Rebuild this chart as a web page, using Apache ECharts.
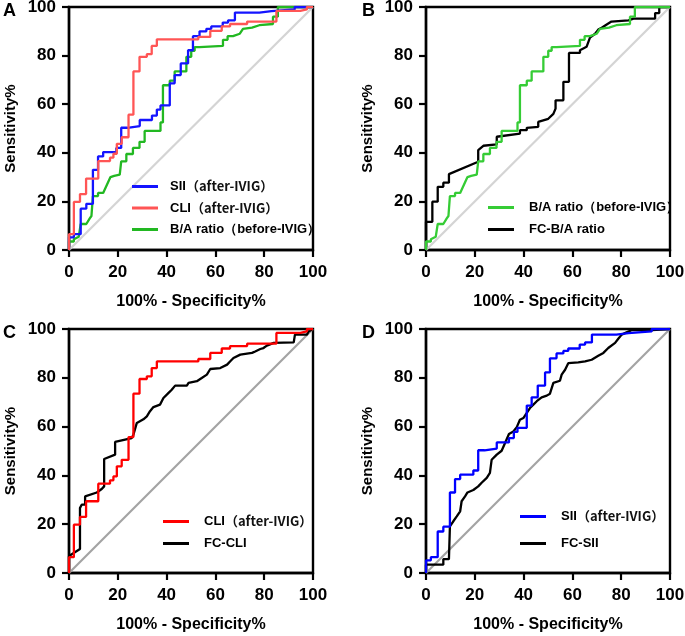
<!DOCTYPE html>
<html><head><meta charset="utf-8">
<script src="https://cdn.jsdelivr.net/npm/echarts/dist/echarts.min.js"></script>
<style>html,body{margin:0;padding:0;background:#fff}#c{width:685px;height:636px}</style>
</head><body><div id="c"></div>
<script>
// tick labels for both axes
const ticks = [0, 20, 40, 60, 80, 100];
const xTitle = '100% - Specificity%';
const yTitle = 'Sensitivity%';
const panelLetters = ['A', 'B', 'C', 'D'];

// ROC curves: [100% - Specificity%, Sensitivity%] vertices
const sii = [[0,0],[0,5.2],[2,5.2],[2,6.5],[4.8,6.5],[4.8,17],[7.1,17],[7.1,19],[9.8,19],[9.8,33],[11.9,33],[11.9,38.5],[14,38.5],[14,40.3],[19.4,40.3],[19.4,42],[21.4,42],[21.4,50.3],[24,50.3],[24,51],[29,51],[29,53.5],[34,53.5],[34,55.3],[36,55.3],[36,57.8],[37.5,57.8],[37.5,59.5],[41.3,59.5],[41.3,68.6],[43.3,68.6],[43.3,72],[45.8,72],[45.8,76.8],[48.8,76.8],[48.8,82.2],[50.8,82.2],[50.8,88],[53.5,88],[53.5,90],[56.3,90],[56.3,91],[58.3,91],[58.3,92],[63,92],[63,93.6],[65.2,93.6],[65.2,94.5],[68,94.5],[68,97.7],[78,97.7],[78,98.3],[83,98.3],[83,99],[92.5,99],[92.5,100],[100,100]];
const cli = [[0,0],[0,6.5],[2,6.5],[2,19.8],[4.5,19.8],[4.5,23],[7,23],[7,29.4],[12,29.4],[12,36.6],[16.8,36.6],[16.8,38],[18.2,38],[18.2,39.6],[19.6,39.6],[19.6,43.7],[21.6,43.7],[21.6,46.4],[24.4,46.4],[24.4,55.7],[26.4,55.7],[26.4,73.5],[28.9,73.5],[28.9,79.5],[31.9,79.5],[31.9,80.6],[33.9,80.6],[33.9,84],[36,84],[36,86.7],[53,86.7],[53,87.7],[57.9,87.7],[57.9,90.2],[62.6,90.2],[62.6,92],[66,92],[66,93],[73,93],[73,94],[85,94],[85,98.4],[94.8,98.4],[94.8,99],[97.5,99],[97.5,100],[100,100]];
const baRatio = [[0,0],[0,3.5],[2,3.5],[2,4.4],[4,5.5],[4.8,5.5],[4.8,10.7],[7.1,10.7],[8.5,13],[9.2,14],[9.8,22.2],[11.9,22.2],[11.9,23.5],[14,23.5],[17,30],[18.5,30.5],[20.8,31],[21.4,31],[21.4,36.5],[23.5,36.5],[23.5,39.5],[26.2,39.5],[26.2,42],[28.9,42],[28.9,44.5],[31,44.5],[31,49],[37.5,49],[37.5,52.5],[38.5,52.5],[38.5,67.8],[41.3,67.8],[41.3,69.7],[43.3,69.7],[43.3,73.5],[48.1,73.5],[48.1,79.5],[50.1,79.5],[50.1,82],[51.5,82],[51.5,83.5],[53.5,83.5],[53.5,84],[63.1,84],[63.1,86.5],[65,86.5],[65,88],[67.2,88],[70,89],[71.3,91],[75,91.5],[78,92.5],[83.6,93],[83.6,96],[85.6,96],[85.6,100],[100,100]];
const fcBaRatio = [[0,0],[0,11.6],[2.6,11.6],[2.6,19.9],[4.8,19.9],[4.8,26],[7.1,26],[7.1,27.7],[9.4,27.7],[9.4,31.2],[21.4,36.3],[21.4,41.1],[23.5,42.9],[29,43.5],[29,46.6],[38.5,47.9],[38.5,49.3],[41.3,49.3],[41.3,50.3],[46,50.7],[46,52.7],[50.1,54],[52.2,56],[53.1,58.2],[53.1,61.6],[56.3,61.6],[56.3,69.2],[58.6,69.2],[58.6,81.1],[63.1,81.1],[63.1,82.2],[65.8,83.6],[67.2,87.4],[69.3,89],[70.6,90.7],[72,91.5],[74.7,93.2],[76,94],[83,94.5],[85,95.2],[93.9,95.2],[93.9,97.5],[95.6,97.5],[95.6,100],[100,100]];
const fcCli = [[0,0],[0,7],[4.5,9.8],[4.5,26.6],[5.2,28],[6.6,28],[6.6,31.4],[11.4,33],[13.4,34.4],[14.4,35.5],[14.4,46.7],[18.9,48.5],[18.9,53.7],[25.7,55.3],[26.4,56.7],[27.8,61.5],[30.5,63],[31.9,64.2],[33.2,66.3],[34.6,68],[37.3,69],[38.7,71.7],[40.8,73.8],[42.1,75.1],[43.5,76.8],[48.3,76.8],[49,77.9],[52.4,78.6],[54.4,79.9],[56.5,81.3],[57.9,83.6],[62,84],[64.8,85.4],[66,86.7],[67.4,88.1],[70.2,89.5],[75,90.2],[76.3,90.8],[78.4,91.8],[79.7,92.2],[81.1,93.2],[83.9,94.3],[92.1,94.5],[92.6,97.7],[97.5,97.7],[98.2,99],[100,100]];
const fcSii = [[0,0],[0,3.4],[7.1,3.4],[7.1,5.7],[9.4,5.7],[9.8,19.1],[11.2,21.2],[12.6,23.2],[14,25.3],[14.6,29.4],[16,31.4],[17,33],[19.4,34],[21.4,35.5],[22.8,37],[24.9,39],[26.2,41],[26.9,46.4],[29,48.5],[31,50.1],[32.4,53.3],[34,57],[35.8,58],[37.2,59.8],[38.5,62.8],[39.9,63.5],[41.3,65.6],[42.6,67.6],[44,69],[45.4,70.4],[47.4,72],[49.5,72.7],[50.8,73.5],[52.2,77.9],[54.9,78.8],[55.6,81.3],[57,83.3],[58.3,86],[62.4,86.3],[65.2,86.7],[67.9,87.4],[70.6,89],[72.7,90.2],[74.7,92.2],[77.5,94.3],[78.8,96],[80.2,97.7],[82.2,98.6],[84.2,99.5],[92.5,99.5],[92.5,100],[100,100]];
const diagonal = [[0,0],[100,100]];

const N_SII = 'SII（after-IVIG）';
const N_CLI = 'CLI（after-IVIG）';
const N_BA = 'B/A ratio（before-IVIG）';
const N_FCBA = 'FC-B/A ratio';
const N_FCCLI = 'FC-CLI';
const N_FCSII = 'FC-SII';

const grids = [
  {left: 69, top: 7, width: 244, height: 243},
  {left: 426, top: 7, width: 244, height: 243},
  {left: 69, top: 329, width: 244, height: 244},
  {left: 426, top: 329, width: 244, height: 244}
];
const diagColors = ['#d4d4d4', '#d4d4d4', '#a3a3a3', '#a3a3a3'];

const F = 'Arial, "Liberation Sans", sans-serif';
const interval = ticks[1] - ticks[0];

const xAxes = grids.map((g, i) => ({
  type: 'value', gridIndex: i, min: ticks[0], max: ticks[ticks.length - 1], interval: interval,
  name: xTitle, nameLocation: 'middle', nameGap: 44,
  nameTextStyle: {fontFamily: F, fontWeight: 'bold', fontSize: 16, color: '#000'},
  axisLine: {show: true, onZero: false, lineStyle: {color: '#000', width: 2.4}},
  axisTick: {show: true, length: 7, lineStyle: {color: '#000', width: 2.2}},
  axisLabel: {fontFamily: F, fontWeight: 'bold', fontSize: 17, color: '#000', margin: 14},
  splitLine: {show: false}
}));
const yAxes = grids.map((g, i) => ({
  type: 'value', gridIndex: i, min: ticks[0], max: ticks[ticks.length - 1], interval: interval,
  name: yTitle, nameLocation: 'middle', nameGap: 51,
  nameTextStyle: {fontFamily: F, fontWeight: 'bold', fontSize: 15, color: '#000'},
  axisLine: {show: true, onZero: false, lineStyle: {color: '#000', width: 2.4}},
  axisTick: {show: true, length: 7, lineStyle: {color: '#000', width: 2.2}},
  axisLabel: {fontFamily: F, fontWeight: 'bold', fontSize: 17, color: '#000', margin: 13},
  splitLine: {show: false}
}));

function curve(name, data, idx, color) {
  return {
    type: 'line', name: name, data: data, xAxisIndex: idx, yAxisIndex: idx,
    showSymbol: false, symbol: 'none', animation: false, silent: true,
    lineStyle: {color: color, width: 2.3}, itemStyle: {color: color}
  };
}

const C = {
  blueA: '#1414ff', redA: '#ff5555', greenA: '#22b822',
  greenB: '#35cc35', redC: '#ff0000', blueD: '#0000ff', black: '#000000'
};

const series = [];
grids.forEach((g, i) => series.push(Object.assign(curve('diag' + i, diagonal, i, diagColors[i]), {lineStyle: {color: diagColors[i], width: 2.2}})));
series.push(curve(N_BA, baRatio, 0, C.greenA));
series.push(curve(N_SII, sii, 0, C.blueA));
series.push(curve(N_CLI, cli, 0, C.redA));
series.push(curve(N_FCBA, fcBaRatio, 1, C.black));
series.push(curve(N_BA, baRatio, 1, C.greenB));
series.push(curve(N_FCCLI, fcCli, 2, C.black));
series.push(curve(N_CLI, cli, 2, C.redC));
series.push(curve(N_FCSII, fcSii, 3, C.black));
series.push(curve(N_SII, sii, 3, C.blueD));

function fmt(name) {
  const m = name.indexOf('（after');
  if (m >= 0) return '{b|' + name.slice(0, m) + '}{c|' + name.slice(m) + '}';
  return '{b|' + name + '}';
}
function legend(left, top, gap, pad, items) {
  return {
    orient: 'vertical', left: left, top: top, padding: 0, itemGap: gap,
    itemWidth: 26, itemHeight: 3, icon: 'rect', selectedMode: false,
    data: items.map(it => ({name: it[0], itemStyle: {color: it[1]}})),
    formatter: fmt,
    textStyle: {
      padding: [0, 0, 0, pad],
      rich: {
        b: {fontFamily: F, fontWeight: 'bold', fontSize: 13, color: '#000', lineHeight: 16},
        c: {fontFamily: '"Noto Sans CJK SC", sans-serif', fontWeight: 'bold', fontSize: 13, color: '#111', lineHeight: 16}
      }
    }
  };
}

const titleTop = [2, 2, 324, 324];
const titleLeft = [3, 362, 3, 362];

const option = {
  animation: false,
  backgroundColor: '#fff',
  title: panelLetters.map((t, i) => ({
    text: t, left: titleLeft[i], top: titleTop[i], padding: 0,
    textStyle: {fontFamily: F, fontWeight: 'bold', fontSize: 18, color: '#000'}
  })),
  grid: grids.map(g => Object.assign({show: true, borderColor: '#000', borderWidth: 2.4, backgroundColor: 'transparent', containLabel: false, outerBoundsMode: 'none'}, g)),
  xAxis: xAxes,
  yAxis: yAxes,
  legend: [
    legend(132, 180, 8.5, 7, [[N_SII, C.blueA], [N_CLI, C.redA], [N_BA, C.greenA]]),
    legend(488, 201, 9, 10, [[N_BA, C.greenB], [N_FCBA, C.black]]),
    legend(163, 515, 9, 10, [[N_CLI, C.redC], [N_FCCLI, C.black]]),
    legend(520, 510, 14, 10, [[N_SII, C.blueD], [N_FCSII, C.black]])
  ],
  series: series
};

const chart = echarts.init(document.getElementById('c'), null, {renderer: 'canvas'});
chart.setOption(option);
</script>
</body></html>
